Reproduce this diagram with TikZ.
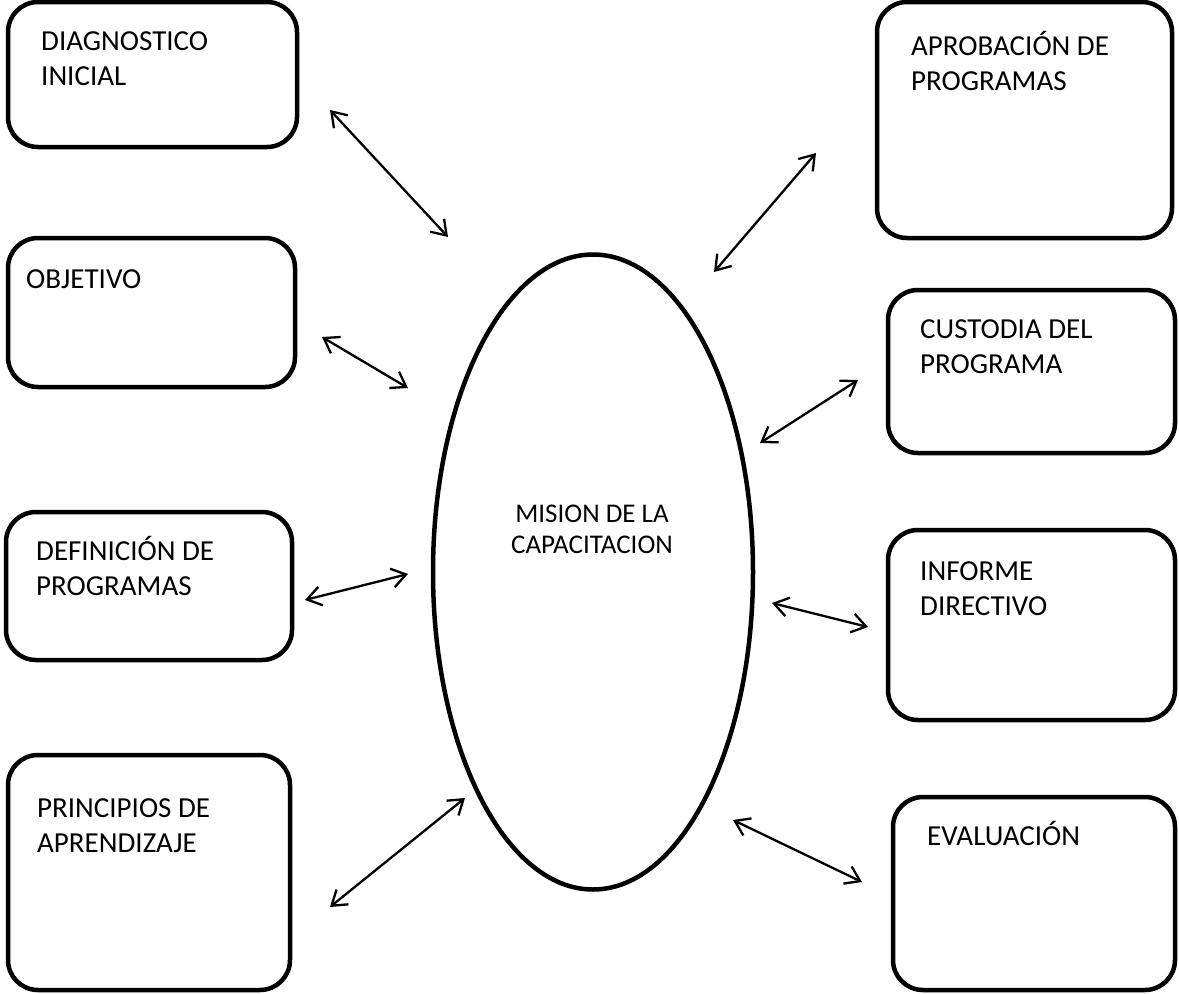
\documentclass[tikz,border=0pt]{standalone}
\usepackage{fontspec}
\setmainfont{Carlito}
\usetikzlibrary{arrows.meta,shapes.geometric}

\tikzset{
  box/.style={draw, line width=4.5pt, rounded corners=30pt, inner sep=0pt, outer sep=0pt},
  lbl/.style={inner sep=0pt, anchor=base west, align=left, text width=260pt,
              font=\fontsize{29}{35.5}\selectfont,
              execute at begin node={\spaceskip=0.226em\relax}},
  hub/.style={draw, ellipse, line width=4.5pt, inner sep=0pt},
  hublbl/.style={inner sep=0pt, anchor=base, align=center, text width=260pt,
              font=\fontsize{27}{31}\selectfont,
              execute at begin node={\spaceskip=0.226em\relax}},
  link/.style={line width=2.3pt, {Straight Barb[length=14pt,width=19pt]}-{Straight Barb[length=14pt,width=19pt]}}
}

\begin{document}
\begin{tikzpicture}[x=1pt,y=-1pt]
\useasboundingbox (0,0) rectangle (1179,994);

% left column of boxes
\node[box, minimum width=289pt, minimum height=145pt] (b1) at (152.5,74.5) {};
\node[box, minimum width=287pt, minimum height=149pt] (b2) at (151.5,312.5) {};
\node[box, minimum width=286pt, minimum height=148pt] (b3) at (149,586) {};
\node[box, minimum width=282pt, minimum height=235pt] (b4) at (149,872.5) {};

% right column of boxes
\node[box, minimum width=295pt, minimum height=236pt] (b5) at (1024.5,120) {};
\node[box, minimum width=287pt, minimum height=163pt] (b6) at (1031.5,371.5) {};
\node[box, minimum width=287pt, minimum height=190pt] (b7) at (1031.5,625) {};
\node[box, minimum width=282pt, minimum height=193pt] (b8) at (1034,893.5) {};

% central ellipse
\node[hub, minimum width=320pt, minimum height=635pt] (m) at (593,572) {};

% labels
\node[lbl] (t1) at (41,50) {DIAGNOSTICO\\INICIAL};
\node[lbl] (t2) at (26,288) {OBJETIVO};
\node[lbl] (t3) at (36,560) {DEFINICIÓN DE\\PROGRAMAS};
\node[lbl] (t4) at (37,817) {PRINCIPIOS DE\\APRENDIZAJE};
\node[lbl] (t5) at (911,55) {APROBACIÓN DE\\PROGRAMAS};
\node[lbl] (t6) at (920,338) {CUSTODIA DEL\\PROGRAMA};
\node[lbl] (t7) at (920,580) {INFORME\\DIRECTIVO};
\node[lbl] (t8) at (927,845) {EVALUACIÓN};
\node[hublbl] (tm) at (592,522) {MISION DE LA\\CAPACITACION};

% arrow end points
\coordinate (a1s) at (330,110);  \coordinate (a1e) at (448,237);
\coordinate (a2s) at (322,337);  \coordinate (a2e) at (408,388);
\coordinate (a3s) at (305,600);  \coordinate (a3e) at (408,574);
\coordinate (a4s) at (330,907);  \coordinate (a4e) at (465,798);
\coordinate (a5s) at (816,153);  \coordinate (a5e) at (714,272);
\coordinate (a6s) at (858,380);  \coordinate (a6e) at (760,443);
\coordinate (a7s) at (772,603);  \coordinate (a7e) at (868,627);
\coordinate (a8s) at (733,820);  \coordinate (a8e) at (862,882);

% double-headed links
\draw[link] (a1s) -- (a1e);
\draw[link] (a2s) -- (a2e);
\draw[link] (a3s) -- (a3e);
\draw[link] (a4s) -- (a4e);
\draw[link] (a5s) -- (a5e);
\draw[link] (a6s) -- (a6e);
\draw[link] (a7s) -- (a7e);
\draw[link] (a8s) -- (a8e);
\end{tikzpicture}
\end{document}
